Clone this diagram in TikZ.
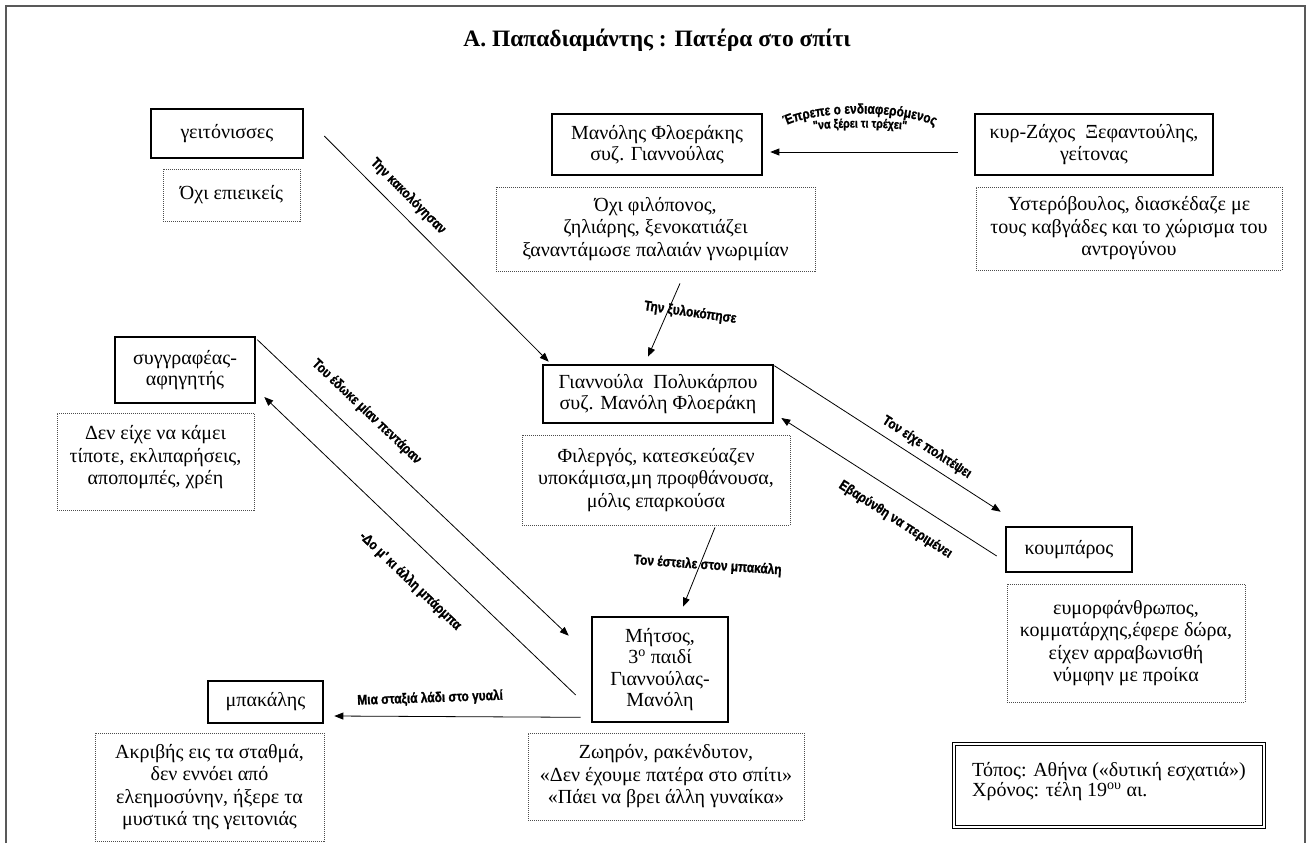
\documentclass[tikz,border=0pt]{standalone}
\usepackage{fontspec}
\setmainfont{Liberation Serif}
\newfontfamily\lblfont[FakeStretch=0.85, BoldFeatures={FakeBold=1.2}]{Liberation Sans}
\usetikzlibrary{arrows.meta,calc,decorations.text}
\tikzset{>={Triangle[length=9pt,width=7pt]}}
\tikzset{
  person/.style={draw, line width=2.6pt, align=center, inner sep=2pt,
    font=\fontsize{20}{21.5}\selectfont},
  traits/.style={draw=black!70, line width=0.8pt, dash pattern=on 1pt off 1pt,
    align=center, inner sep=2pt, font=\fontsize{20}{22.5}\selectfont},
  rel/.style={->, line width=0.8pt},
  rellbl/.style={font=\lblfont\bfseries\fontsize{14}{16}\selectfont, inner sep=1pt},
}

\begin{document}
\begin{tikzpicture}[x=1pt, y=1pt]
\useasboundingbox (0,0) rectangle (1313,-843);
\draw[black!65, line width=2.5pt] (6,-843) -- (6,-6) -- (1305,-6) -- (1305,-843);
\node[font=\fontsize{23.5}{26}\selectfont\bfseries] (title) at (657,-40) {Α. Παπαδιαμάντης : Πατέρα στο σπίτι};

% characters
\node[person, minimum width=152pt, minimum height=49pt] (gitonisses) at (227,-133.5) {γειτόνισσες};
\node[traits, minimum width=137pt, minimum height=52pt] (gitonissesD) at (231.5,-195) {Όχι επιεικείς};
\node[person, minimum width=210pt, minimum height=61pt] (manolis) at (657,-144.5) {Μανόλης Φλοεράκης\\συζ. Γιαννούλας};
\node[traits, minimum width=319pt, minimum height=84pt] (manolisD) at (655.5,-229) {Όχι φιλόπονος,\\ζηλιάρης, ξενοκατιάζει\\ξαναντάμωσε παλαιάν γνωριμίαν};
\node[person, minimum width=238pt, minimum height=61pt] (zachos) at (1094,-144.5) {κυρ-Ζάχος~~Ξεφαντούλης,\\γείτονας};
\node[traits, minimum width=306pt, minimum height=83pt] (zachosD) at (1129,-228.5) {Υστερόβουλος, διασκέδαζε με\\τους καβγάδες και το χώρισμα του\\αντρογύνου};
\node[person, minimum width=230pt, minimum height=58pt] (giannoula) at (658,-394) {Γιαννούλα~~Πολυκάρπου\\συζ. Μανόλη Φλοεράκη};
\node[traits, minimum width=268pt, minimum height=90pt] (giannoulaD) at (656,-480) {Φιλεργός, κατεσκεύαζεν\\υποκάμισα,μη προφθάνουσα,\\μόλις επαρκούσα};
\node[person, minimum width=140pt, minimum height=66pt] (syggrafeas) at (185,-370) {συγγραφέας-\\αφηγητής};
\node[traits, minimum width=197pt, minimum height=97pt] (syggrafeasD) at (155.5,-461.5) {Δεν είχε να κάμει\\τίποτε, εκλιπαρήσεις,\\αποπομπές, χρέη\\[-10pt]~};
\node[person, minimum width=126pt, minimum height=45pt] (koumparos) at (1069,-549.5) {κουμπάρος};
\node[traits, minimum width=238pt, minimum height=118pt] (koumparosD) at (1126,-643) {ευμορφάνθρωπος,\\κομματάρχης,έφερε δώρα,\\είχεν αρραβωνισθή\\νύμφην με προίκα};
\node[person, minimum width=136pt, minimum height=105pt] (mitsos) at (660,-669.5) {Μήτσος,\\3\textsuperscript{ο} παιδί\\Γιαννούλας-\\Μανόλη};
\node[traits, minimum width=276pt, minimum height=87pt] (mitsosD) at (666,-776.5) {Ζωηρόν, ρακένδυτον,\\«Δεν έχουμε πατέρα στο σπίτι»\\«Πάει να βρει άλλη γυναίκα»};
\node[person, minimum width=115pt, minimum height=42pt] (bakalis) at (265.5,-702) {μπακάλης};
\node[traits, minimum width=229pt, minimum height=108pt] (bakalisD) at (209.5,-787) {Ακριβής εις τα σταθμά,\\δεν εννόει από\\ελεημοσύνην, ήξερε τα\\μυστικά της γειτονιάς};
\node[draw, double, line width=1pt, double distance=2.5pt, minimum width=310pt, minimum height=83pt,
  align=left, font=\fontsize{20}{20}\selectfont] (topos) at (1109,-785.5)
  {Τόπος: Αθήνα («δυτική εσχατιά»)\\Χρόνος: τέλη 19\textsuperscript{ου} αι.\\[-8pt]~};

% relations
\draw[rel] ([xshift=20pt,yshift=-2.5pt]gitonisses.east) -- ([xshift=7pt,yshift=2pt]giannoula.north west)
  node[rellbl, pos=0.32, sloped, above=9pt] {Την κακολόγησαν};
\draw[rel] ([xshift=24.5pt,yshift=-12pt]manolisD.south) -- ([xshift=-10pt,yshift=7pt]giannoula.north)
  node[rellbl, pos=0.4, xshift=23pt, rotate=-8] {Την ξυλοκόπησε};
\draw[rel] ([xshift=-16pt,yshift=-7.5pt]zachos.west) -- ([xshift=7pt,yshift=-7.5pt]manolis.east);
\path[decorate, decoration={text along path, text align=center,
  text={|\lblfont\bfseries\fontsize{14}{16}\selectfont|Έπρεπε ο ενδιαφερόμενος}}]
  (777,-130) .. controls (810,-108) and (908,-108) .. (943,-130);
\path[decorate, decoration={text along path, text align=center,
  text={|\lblfont\bfseries\fontsize{12.5}{14}\selectfont|"να ξέρει τι τρέχει"}}]
  (798,-132) .. controls (830,-126) and (890,-126) .. (922,-132);
\draw[rel] ([yshift=-2pt]giannoula.north east) -- ([xshift=-4pt,yshift=14pt]koumparos.north west)
  node[rellbl, pos=0.64, sloped, above=6pt] {Τον είχε πολιτέψει};
\draw[rel, <-] ([xshift=7pt,yshift=-24pt]giannoula.east) -- ([xshift=-8pt,yshift=-6.5pt]koumparos.west)
  node[rellbl, pos=0.59, sloped, below=16pt] {Εβαρύνθη να περιμένει};
\draw[rel] ([xshift=59pt,yshift=-2pt]giannoulaD.south) -- ([xshift=23pt,yshift=9pt]mitsos.north)
  node[rellbl, pos=0.48, xshift=8pt, rotate=-4] {Τον έστειλε στον μπακάλη};
\draw[rel] ([xshift=1pt,yshift=-4pt]syggrafeas.north east) -- ([xshift=-22pt,yshift=-20pt]mitsos.north west)
  node[rellbl, pos=0.3, sloped, above=15pt] {Του έδωκε μίαν πεντάραν};
\draw[rel, <-] ([xshift=8pt,yshift=-27pt]syggrafeas.east) -- ([xshift=-15pt,yshift=-25.5pt]mitsos.west)
  node[rellbl, pos=0.54, sloped, below=24pt] {-Δο μ' κι άλλη μπάρμπα};
\draw[rel] ([xshift=-10pt,yshift=6pt]mitsos.south west) -- ([xshift=10pt,yshift=-14pt]bakalis.east)
  node[rellbl, pos=0.61, above=10pt, rotate=2] {Μια σταξιά λάδι στο γυαλί};
\end{tikzpicture}
\end{document}
